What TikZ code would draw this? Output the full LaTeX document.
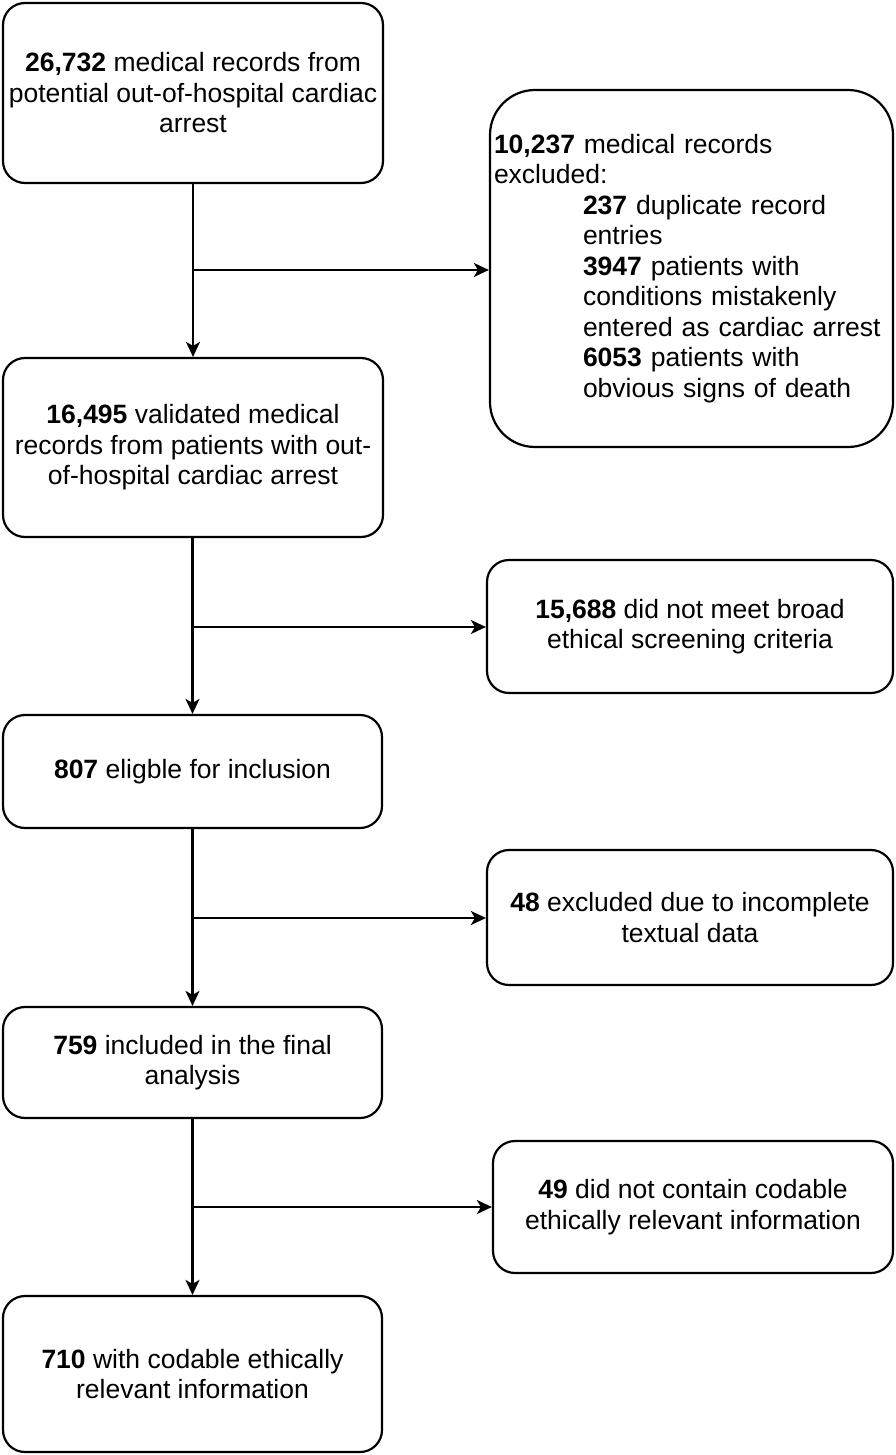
\documentclass[tikz,border=0pt]{standalone}
\usepackage{fontspec}
\setmainfont{Liberation Sans}
\usetikzlibrary{arrows.meta}

\tikzstyle{box}=[draw, line width = 2.2pt, rounded corners = 22pt, inner sep = 4pt,
  align = center, font = \fontsize{26.5}{30.5}\selectfont]
\tikzstyle{flow}=[line width = 2.2pt, -{Stealth[length = 15pt, width = 14pt, inset = 4pt]}]

\begin{document}
\begin{tikzpicture}[x = 1pt, y = -1pt]
\useasboundingbox (0,0) rectangle (896,1455);
\draw(193,93) node[box, minimum width = 380pt, minimum height = 180pt](records)
  {\textbf{26,732} medical records from\\potential out-of-hospital cardiac\\arrest};
%
\draw(691.5,268.5) node[box, rounded corners = 45pt, align = left, text width = 395pt,
  minimum height = 357pt](excluded)
  {\textbf{10,237} medical records\\excluded:\\
   \hspace*{89pt}\textbf{237} duplicate record\\
   \hspace*{89pt}entries\\
   \hspace*{89pt}\textbf{3947} patients with\\
   \hspace*{89pt}conditions mistakenly\\
   \hspace*{89pt}entered as cardiac arrest\\
   \hspace*{89pt}\textbf{6053} patients with\\
   \hspace*{89pt}obvious signs of death};
%
\draw(193,447.5) node[box, minimum width = 380pt, minimum height = 179pt](validated)
  {\textbf{16,495} validated medical\\records from patients with out-\\of-hospital cardiac arrest};
\draw[flow] (records) -- (validated);
\coordinate (split1) at (193,270);
\draw[flow] (split1) -- (split1 -| excluded.west);
%
\draw(690,626.5) node[box, minimum width = 406pt, minimum height = 133pt](screening)
  {\textbf{15,688} did not meet broad\\ethical screening criteria};
\draw(192.5,771.5) node[box, minimum width = 379pt, minimum height = 113pt](eligible)
  {\textbf{807} eligble for inclusion};
\draw[flow] (validated.south -| eligible.north) -- (eligible);
\coordinate (split2) at (193,627);
\draw[flow] (split2) -- (split2 -| screening.west);
%
\draw(690,917.5) node[box, minimum width = 406pt, minimum height = 135pt](incomplete)
  {\textbf{48} excluded due to incomplete\\textual data};
\draw(192.5,1062.5) node[box, minimum width = 379pt, minimum height = 111pt](final)
  {\textbf{759} included in the final\\analysis};
\draw[flow] (eligible) -- (final);
\coordinate (split3) at (193,918);
\draw[flow] (split3) -- (split3 -| incomplete.west);
%
\draw(693,1207) node[box, minimum width = 400pt, minimum height = 132pt](uncodable)
  {\textbf{49} did not contain codable\\ethically relevant information};
\draw(192.5,1374) node[box, minimum width = 379pt, minimum height = 156pt](codable)
  {\textbf{710} with codable ethically\\relevant information};
\draw[flow] (final) -- (codable);
\coordinate (split4) at (193,1207);
\draw[flow] (split4) -- (split4 -| uncodable.west);
\end{tikzpicture}
\end{document}
